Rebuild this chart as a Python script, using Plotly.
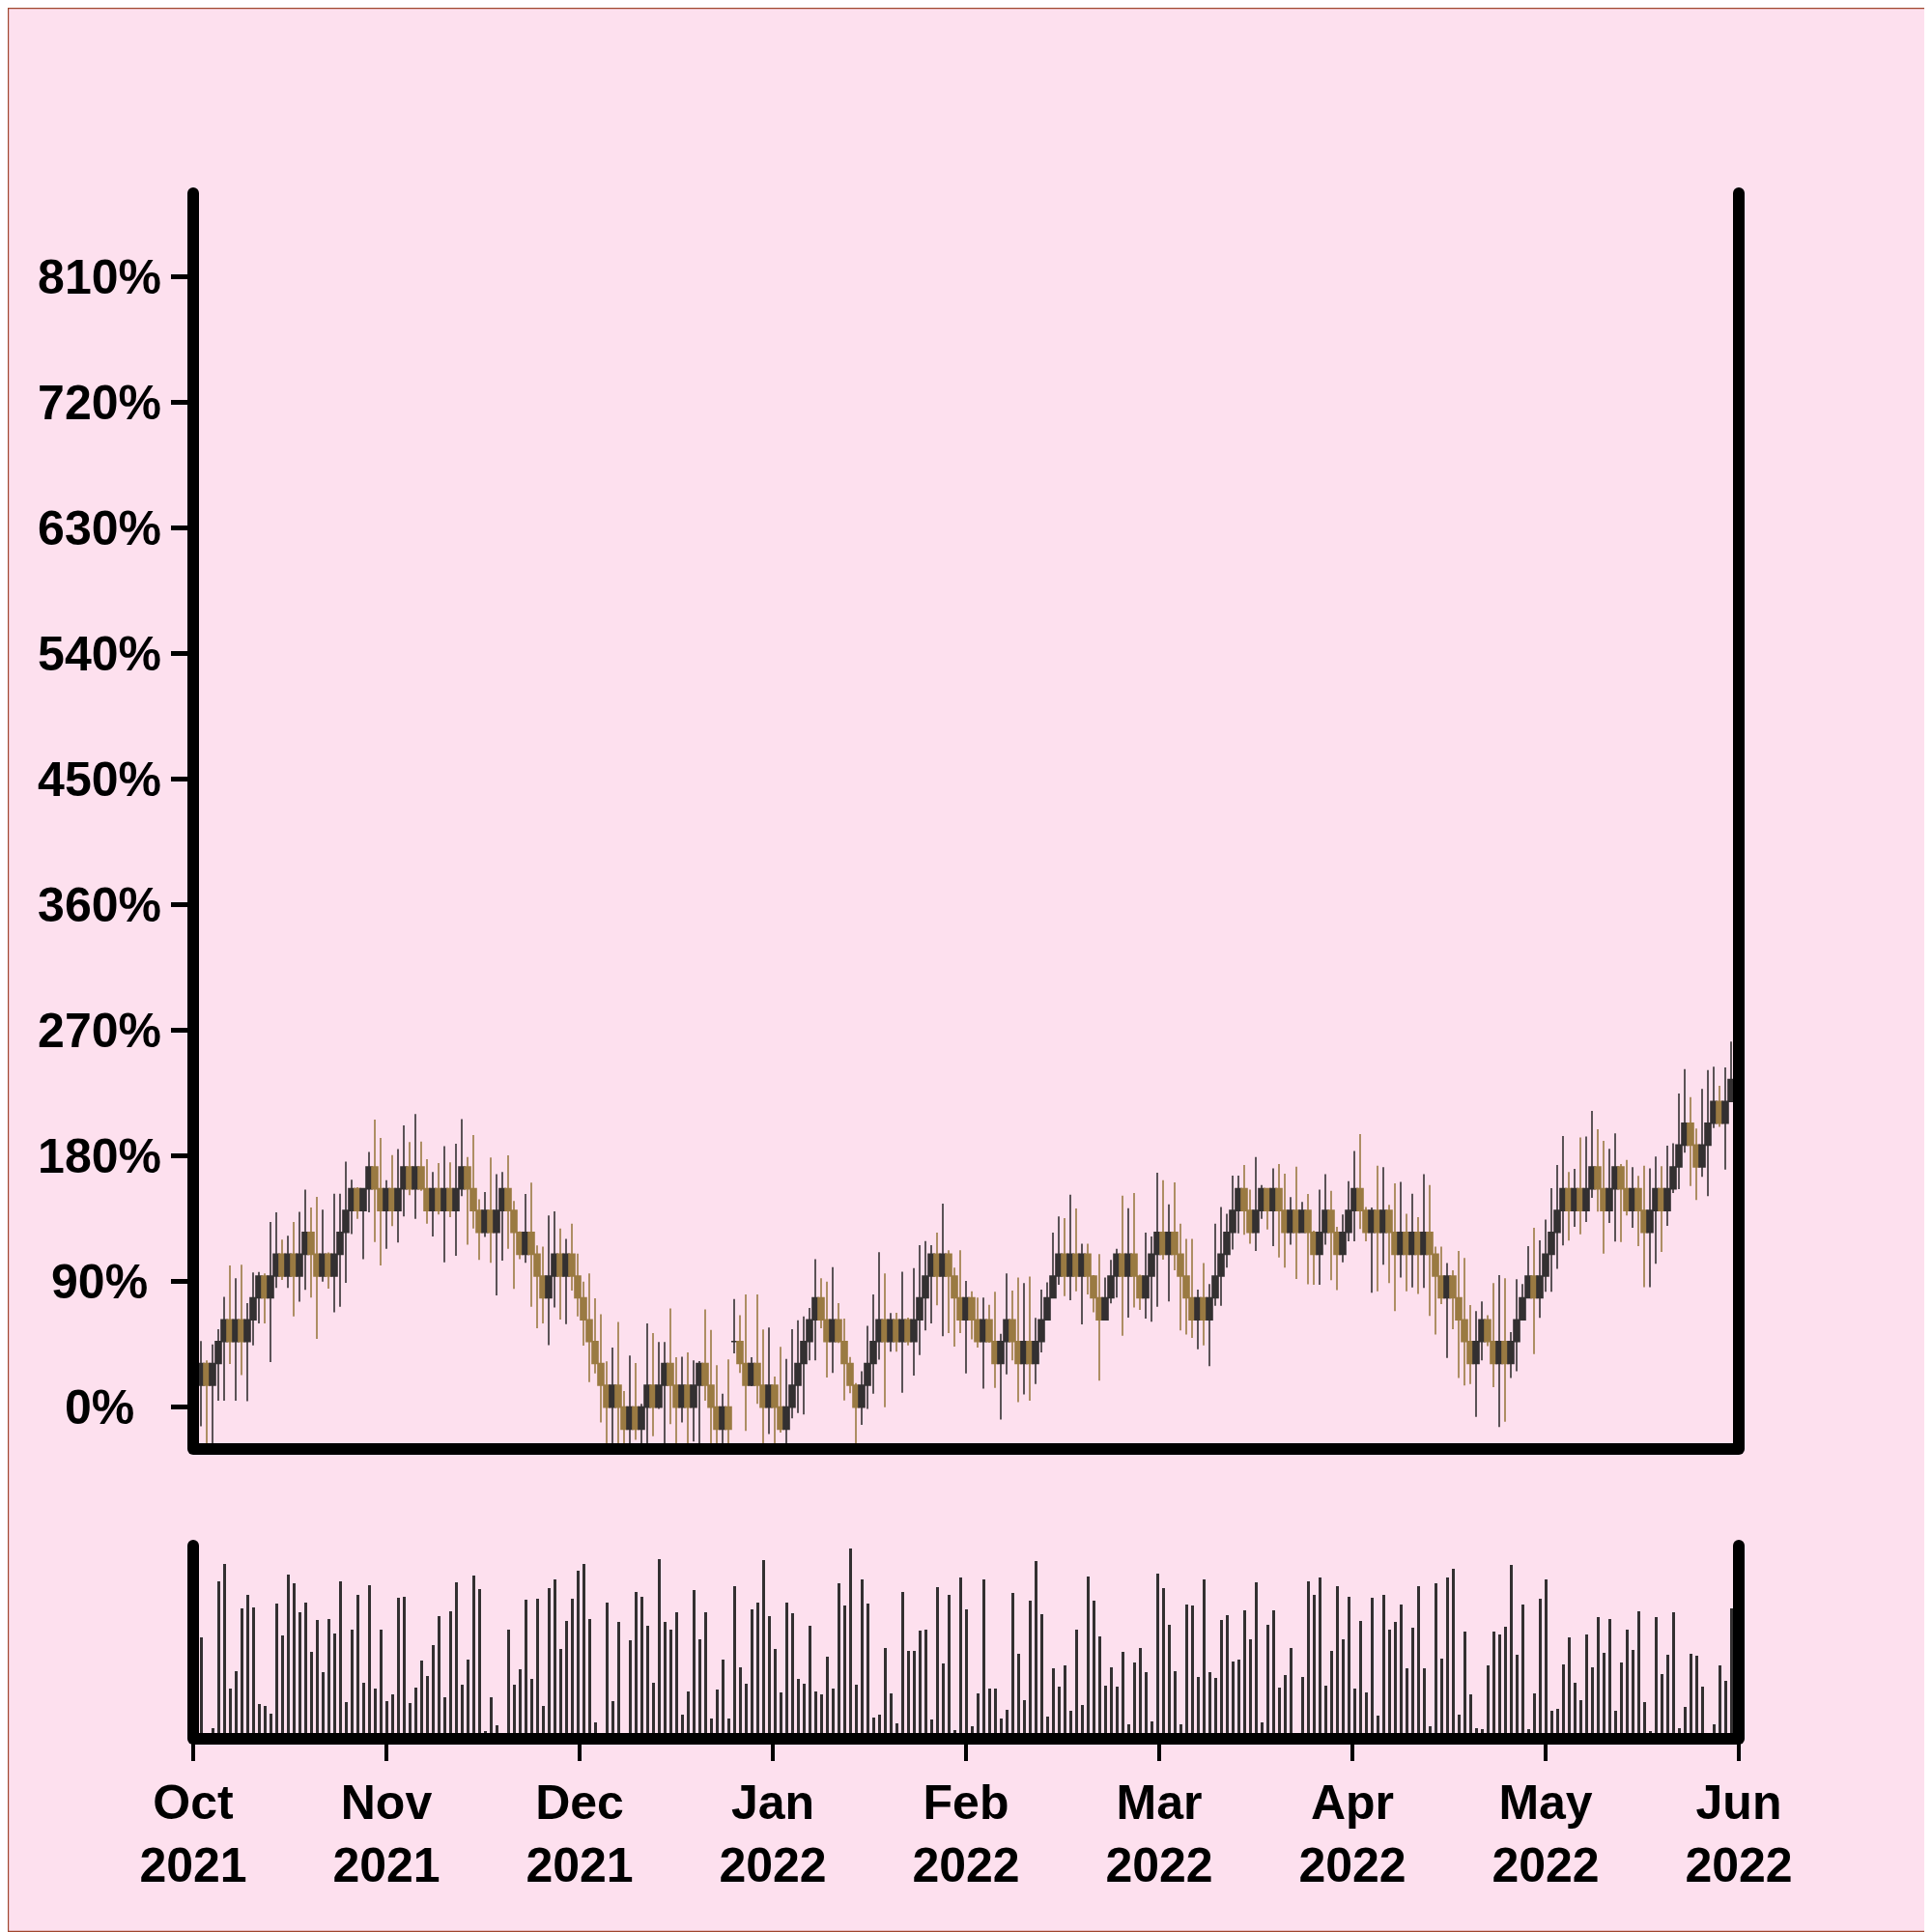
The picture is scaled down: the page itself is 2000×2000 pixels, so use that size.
import plotly.graph_objects as go

# ---------------- data ----------------
month_labels = ["Oct<br>2021", "Nov<br>2021", "Dec<br>2021", "Jan<br>2022", "Feb<br>2022",
                "Mar<br>2022", "Apr<br>2022", "May<br>2022", "Jun<br>2022"]

y_tick_values = [0, 90, 180, 270, 360, 450, 540, 630, 720, 810]
y_tick_labels = ["0%\u00a0\u00a0", "90%\u00a0", "180%", "270%", "360%", "450%", "540%", "630%", "720%", "810%"]

opens = [
    15.7, 31.3, 15.7, 31.3, 47.0, 62.6, 47.0, 62.6, 47.0, 62.6,
    78.3, 93.9, 78.3, 93.9, 109.6, 93.9, 109.6, 93.9, 109.6, 125.2,
    109.6, 93.9, 109.6, 93.9, 109.6, 125.2, 140.9, 156.5, 140.9, 156.5,
    172.2, 156.5, 140.9, 156.5, 140.9, 156.5, 172.2, 156.5, 172.2, 156.5,
    140.9, 156.5, 140.9, 156.5, 140.9, 156.5, 172.2, 156.5, 140.9, 125.2,
    140.9, 125.2, 140.9, 156.5, 140.9, 125.2, 109.6, 125.2, 109.6, 93.9,
    78.3, 93.9, 109.6, 93.9, 109.6, 93.9, 78.3, 62.6, 47.0, 31.3,
    15.7, 0.0, 15.7, 0.0, -15.7, 0.0, -15.7, 0.0, 15.7, 0.0,
    15.7, 31.3, 15.7, 0.0, 15.7, 0.0, 15.7, 31.3, 15.7, 0.0,
    -15.7, 0.0, 47.0, 47.0, 31.3, 15.7, 31.3, 15.7, 0.0, 15.7,
    0.0, -15.7, 0.0, 15.7, 31.3, 47.0, 62.6, 78.3, 62.6, 47.0,
    62.6, 47.0, 31.3, 15.7, 0.0, 15.7, 31.3, 47.0, 62.6, 47.0,
    62.6, 47.0, 62.6, 47.0, 62.6, 78.3, 93.9, 109.6, 93.9, 109.6,
    93.9, 78.3, 62.6, 78.3, 62.6, 47.0, 62.6, 47.0, 31.3, 47.0,
    62.6, 47.0, 31.3, 47.0, 31.3, 47.0, 62.6, 78.3, 93.9, 109.6,
    93.9, 109.6, 93.9, 109.6, 93.9, 78.3, 62.6, 78.3, 93.9, 109.6,
    93.9, 109.6, 93.9, 78.3, 93.9, 109.6, 125.2, 109.6, 125.2, 109.6,
    93.9, 78.3, 62.6, 78.3, 62.6, 78.3, 93.9, 109.6, 125.2, 140.9,
    156.5, 140.9, 125.2, 140.9, 156.5, 140.9, 156.5, 140.9, 125.2, 140.9,
    125.2, 140.9, 125.2, 109.6, 125.2, 140.9, 125.2, 109.6, 125.2, 140.9,
    156.5, 140.9, 125.2, 140.9, 125.2, 140.9, 125.2, 109.6, 125.2, 109.6,
    125.2, 109.6, 125.2, 109.6, 93.9, 78.3, 93.9, 78.3, 62.6, 47.0,
    31.3, 47.0, 62.6, 47.0, 31.3, 47.0, 31.3, 47.0, 62.6, 78.3,
    93.9, 78.3, 93.9, 109.6, 125.2, 140.9, 156.5, 140.9, 156.5, 140.9,
    156.5, 172.2, 156.5, 140.9, 156.5, 172.2, 156.5, 140.9, 156.5, 140.9,
    125.2, 140.9, 156.5, 140.9, 156.5, 172.2, 187.8, 203.5, 187.8, 172.2,
    187.8, 203.5, 219.1, 203.5, 219.1,
]

closes = [
    31.3, 15.7, 31.3, 47.0, 62.6, 47.0, 62.6, 47.0, 62.6, 78.3,
    93.9, 78.3, 93.9, 109.6, 93.9, 109.6, 93.9, 109.6, 125.2, 109.6,
    93.9, 109.6, 93.9, 109.6, 125.2, 140.9, 156.5, 140.9, 156.5, 172.2,
    156.5, 140.9, 156.5, 140.9, 156.5, 172.2, 156.5, 172.2, 156.5, 140.9,
    156.5, 140.9, 156.5, 140.9, 156.5, 172.2, 156.5, 140.9, 125.2, 140.9,
    125.2, 140.9, 156.5, 140.9, 125.2, 109.6, 125.2, 109.6, 93.9, 78.3,
    93.9, 109.6, 93.9, 109.6, 93.9, 78.3, 62.6, 47.0, 31.3, 15.7,
    0.0, 15.7, 0.0, -15.7, 0.0, -15.7, 0.0, 15.7, 0.0, 15.7,
    31.3, 15.7, 0.0, 15.7, 0.0, 15.7, 31.3, 15.7, 0.0, -15.7,
    0.0, -15.7, 47.0, 31.3, 15.7, 31.3, 15.7, 0.0, 15.7, 0.0,
    -15.7, 0.0, 15.7, 31.3, 47.0, 62.6, 78.3, 62.6, 47.0, 62.6,
    47.0, 31.3, 15.7, 0.0, 15.7, 31.3, 47.0, 62.6, 47.0, 62.6,
    47.0, 62.6, 47.0, 62.6, 78.3, 93.9, 109.6, 93.9, 109.6, 93.9,
    78.3, 62.6, 78.3, 62.6, 47.0, 62.6, 47.0, 31.3, 47.0, 62.6,
    47.0, 31.3, 47.0, 31.3, 47.0, 62.6, 78.3, 93.9, 109.6, 93.9,
    109.6, 93.9, 109.6, 93.9, 78.3, 62.6, 78.3, 93.9, 109.6, 93.9,
    109.6, 93.9, 78.3, 93.9, 109.6, 125.2, 109.6, 125.2, 109.6, 93.9,
    78.3, 62.6, 78.3, 62.6, 78.3, 93.9, 109.6, 125.2, 140.9, 156.5,
    140.9, 125.2, 140.9, 156.5, 140.9, 156.5, 140.9, 125.2, 140.9, 125.2,
    140.9, 125.2, 109.6, 125.2, 140.9, 125.2, 109.6, 125.2, 140.9, 156.5,
    140.9, 125.2, 140.9, 125.2, 140.9, 125.2, 109.6, 125.2, 109.6, 125.2,
    109.6, 125.2, 109.6, 93.9, 78.3, 93.9, 78.3, 62.6, 47.0, 31.3,
    47.0, 62.6, 47.0, 31.3, 47.0, 31.3, 47.0, 62.6, 78.3, 93.9,
    78.3, 93.9, 109.6, 125.2, 140.9, 156.5, 140.9, 156.5, 140.9, 156.5,
    172.2, 156.5, 140.9, 156.5, 172.2, 156.5, 140.9, 156.5, 140.9, 125.2,
    140.9, 156.5, 140.9, 156.5, 172.2, 187.8, 203.5, 187.8, 172.2, 187.8,
    203.5, 219.1, 203.5, 219.1, 234.8,
]

highs = [
    47.3, 33.5, 45.0, 55.8, 79.0, 101.5, 92.3, 102.0, 74.5, 96.5,
    96.9, 95.8, 132.7, 139.6, 120.0, 122.8, 132.7, 140.0, 155.8, 143.0,
    150.7, 141.5, 110.8, 153.0, 153.0, 176.0, 163.0, 157.6, 157.0, 182.8,
    206.0, 193.0, 162.7, 180.7, 185.0, 202.0, 190.0, 210.0, 190.4, 177.7,
    168.5, 175.0, 187.0, 175.4, 188.8, 206.5, 179.3, 195.0, 148.9, 154.2,
    178.9, 166.9, 168.5, 180.5, 147.7, 126.0, 152.8, 160.9, 115.9, 115.0,
    137.3, 140.3, 128.0, 120.5, 131.5, 110.0, 90.0, 95.8, 78.0, 66.5,
    32.8, 42.7, 61.0, 11.5, 37.0, 31.6, 2.3, 60.0, 53.0, 46.6,
    46.6, 70.8, 35.8, 36.2, 39.2, 33.5, 33.0, 70.0, 55.4, 30.0,
    9.7, 34.2, 77.5, 65.8, 80.8, 35.8, 80.8, 55.6, 57.0, 22.0,
    43.2, 34.6, 55.8, 62.3, 65.0, 71.0, 106.0, 92.3, 90.0, 100.4,
    74.5, 63.5, 36.0, 17.3, 25.8, 58.2, 80.8, 111.0, 95.8, 67.4,
    67.6, 97.0, 64.2, 99.7, 116.0, 119.0, 116.0, 125.0, 145.8, 112.4,
    100.0, 112.4, 90.5, 83.0, 78.5, 78.5, 73.4, 82.6, 52.6, 95.8,
    83.5, 92.8, 88.9, 93.5, 63.9, 84.2, 89.5, 125.0, 136.6, 135.5,
    152.3, 142.4, 117.2, 117.2, 94.6, 109.6, 92.8, 105.5, 113.5, 151.6,
    142.6, 153.5, 95.0, 125.0, 122.3, 168.0, 162.7, 145.4, 161.0, 131.5,
    120.5, 120.5, 84.2, 103.2, 88.2, 131.5, 143.5, 138.5, 166.0, 166.0,
    173.5, 155.8, 179.3, 159.2, 157.0, 171.2, 174.2, 167.3, 150.5, 172.4,
    147.0, 152.8, 126.5, 155.8, 166.9, 155.0, 129.2, 138.0, 162.0, 183.5,
    195.7, 143.5, 143.0, 173.0, 172.0, 145.0, 160.4, 161.5, 138.5, 153.0,
    136.2, 166.9, 159.2, 115.0, 115.0, 103.2, 98.1, 112.0, 106.9, 73.2,
    68.8, 75.7, 65.8, 88.9, 94.6, 92.3, 53.8, 91.6, 88.2, 115.4,
    128.5, 119.5, 134.5, 157.0, 173.5, 194.3, 168.5, 170.8, 193.2, 193.9,
    212.3, 199.2, 190.9, 185.1, 196.2, 174.2, 177.2, 171.9, 165.7, 173.1,
    171.2, 179.6, 172.6, 187.4, 189.2, 224.8, 242.3, 222.2, 199.6, 228.0,
    241.6, 243.9, 230.3, 243.5, 262.0,
]

lows = [
    -13.8, -40, -40, 4.6, 4.6, 31.0, 4.6, 23.0, 4.2, 44.3,
    60.0, 60.0, 32.3, 85.4, 91.2, 85.4, 65.0, 75.5, 84.0, 78.5,
    49.0, 90.0, 85.0, 68.0, 72.0, 89.0, 124.0, 135.0, 106.0, 139.6,
    118.4, 101.5, 113.5, 129.7, 118.0, 136.6, 151.9, 135.0, 155.0, 131.5,
    122.3, 138.0, 103.8, 136.2, 108.5, 151.2, 116.5, 128.0, 105.5, 121.9,
    103.4, 80.0, 105.0, 113.5, 84.7, 106.0, 103.4, 72.0, 56.5, 60.0,
    44.5, 71.5, 62.8, 59.5, 83.5, 65.0, 44.0, 18.0, 24.2, -11.0,
    -40, -40, -40, -40, -40, -23.5, -40, -40, -20.8, -1.2,
    -40, -12.2, -40, -11.0, -40, -24.7, -40, 4.6, -40, -40,
    -40, -40, 38.5, 24.5, -17.0, 15.0, 2.3, -40, -19.3, -40,
    -18.2, -40, -8.0, -4.2, -5.3, 33.5, 33.5, 56.5, 21.3, 24.5,
    46.0, 4.8, 10.0, -40, -12.7, -1.2, 9.7, 34.0, 0.0, 39.7,
    39.7, 10.4, 44.3, 22.6, 37.4, 55.0, 60.0, 73.0, 50.8, 53.0,
    43.4, 53.0, 24.2, 48.5, 42.7, 13.2, 46.2, 13.8, -8.8, 23.5,
    33.5, 3.5, 9.2, 4.6, 16.6, 39.2, 62.3, 78.0, 87.7, 79.6,
    76.6, 83.0, 59.3, 80.8, 68.0, 19.0, 62.3, 74.3, 78.5, 51.2,
    64.2, 71.5, 69.7, 63.5, 61.2, 72.0, 105.7, 75.7, 98.0, 55.0,
    52.0, 49.6, 41.5, 44.3, 29.3, 72.7, 72.7, 100.0, 113.0, 124.6,
    123.5, 117.2, 112.0, 135.0, 127.4, 115.4, 107.3, 100.0, 116.5, 91.8,
    125.0, 88.0, 87.7, 87.7, 116.5, 91.0, 83.8, 103.8, 118.8, 118.8,
    127.6, 118.8, 82.0, 83.0, 102.0, 88.9, 68.8, 92.8, 83.0, 85.8,
    81.2, 85.4, 65.3, 52.0, 73.8, 35.3, 55.8, 20.8, 15.5, 16.6,
    -6.9, 33.5, 43.8, 14.3, -14.3, -10.4, 20.8, 25.8, 62.6, 78.0,
    38.1, 63.9, 82.6, 82.6, 99.2, 115.9, 119.3, 129.2, 123.9, 132.7,
    150.0, 140.1, 110.1, 132.0, 118.6, 118.4, 137.3, 128.5, 115.4, 85.9,
    85.9, 102.7, 111.2, 129.9, 153.5, 156.2, 182.3, 158.5, 148.4, 165.0,
    151.2, 200.0, 200.8, 170.3, 219.1,
]

volumes = [
    105, 0, 11.3, 162.7, 180.7, 52, 70, 134.7, 148.7, 136,
    36, 34, 25.7, 140, 106.7, 170, 160.7, 130.7, 141, 90,
    122.7, 69, 124, 109.3, 163.3, 38, 112.7, 149.3, 58, 158.7,
    52, 112.7, 38.7, 46, 146, 146.7, 37, 53.3, 81.3, 65,
    97.3, 126.7, 43, 132.3, 162, 55.7, 82.3, 168.7, 155.3, 7.7,
    43, 14, 0, 113, 56, 71.7, 144, 62, 145.3, 33.7,
    155.7, 164.7, 92.7, 122, 144.7, 174.3, 180.7, 124, 17.3, 0,
    140.7, 39.3, 120.7, 0, 102, 151.7, 146.7, 116.7, 58.3, 186,
    121.3, 113, 130.7, 24.7, 48.7, 154.3, 102.7, 131.3, 21.3, 51.3,
    82.3, 21, 157.7, 74, 56.7, 134, 141.3, 184.7, 126.7, 93.3,
    47.7, 140.7, 129.7, 61.7, 56.7, 116.7, 48.7, 46.3, 84.7, 51.7,
    160.7, 137.7, 196.7, 56.3, 164.7, 140.3, 22, 24.7, 93.7, 46.7,
    16.3, 152.3, 90.7, 90.7, 111.7, 113.3, 20.3, 156.7, 77.7, 148.7,
    8.7, 167.3, 133.7, 13.3, 46.7, 165, 51.7, 52.3, 21.3, 29.7,
    150.7, 88.3, 40, 142.7, 184, 129.3, 23.3, 72.7, 54, 75.7,
    28.7, 112.7, 35, 167.7, 143, 106.3, 54.7, 73.7, 53.7, 90,
    15.3, 78.7, 94, 69, 17.7, 171.3, 155.7, 118, 70, 15.3,
    139, 138, 63.7, 165, 69, 63, 123.3, 127.7, 80, 81.7,
    133.3, 103, 161.7, 17.3, 118.3, 132.7, 52.7, 66.3, 94.3, 0,
    64, 163.3, 149, 167.3, 55, 91, 157.7, 103, 146.7, 52,
    121.7, 48, 146, 24, 149.3, 113, 121, 139, 73, 114.7,
    157.7, 72.7, 13.3, 161, 83.3, 167.3, 176.3, 24.7, 110.7, 45.7,
    11.3, 10, 75.7, 111.3, 108.3, 115.7, 179.7, 87.3, 139.3, 9.7,
    47.3, 144.7, 165, 29.3, 30.7, 77.3, 104.7, 57.7, 39.7, 107.7,
    74.3, 125.7, 88.7, 124.3, 29, 79, 113.3, 92, 131.7, 38.3,
    8, 125.7, 66.7, 87.3, 130.7, 10.7, 32.7, 88.3, 85.7, 54.3,
    0, 15, 76, 59.7, 134.7,
]

# ---------------- styling ----------------
BG = "#FDE0EE"
DARK = "#333031"
GOLD = "#9A7A42"
SPINE = "#000000"
FONT = "Liberation Sans"

n = len(closes)
x_idx = list(range(n))
# bars one unit apart, with 1 1/3 unit of padding at both ends of the axis
x_lo = -4.0 / 3.0
x_hi = (n - 1) + 4.0 / 3.0
step = (x_hi - x_lo) / (len(month_labels) - 1)
tick_pos = [x_lo + k * step for k in range(len(month_labels))]

MAIN_DOM = [0.1875, 1.0]
VOL_DOM = [0.0, 0.125]

# the page body adds an 8 px offset, so the figure is 8 px smaller and margins shifted
W = H = 1992
ML, MR, MT, MB = 192, 200, 192, 200
PW = W - ML - MR
PH = H - MT - MB

fig = go.Figure()

fig.add_trace(go.Candlestick(
    x=x_idx, open=opens, high=highs, low=lows, close=closes,
    increasing=dict(line=dict(color=DARK, width=1.6), fillcolor=DARK),
    decreasing=dict(line=dict(color=GOLD, width=1.6), fillcolor=GOLD),
    whiskerwidth=0, xaxis="x", yaxis="y", showlegend=False, hoverinfo="skip",
))

fig.add_trace(go.Bar(
    x=x_idx, y=volumes, marker=dict(color=DARK, line=dict(width=0)),
    width=0.5, xaxis="x2", yaxis="y2", showlegend=False, hoverinfo="skip",
))

tickfont = dict(family=FONT, size=50, color="black", weight="bold")

fig.update_layout(
    width=W, height=H,
    margin=dict(l=ML, r=MR, t=MT, b=MB),
    paper_bgcolor=BG, plot_bgcolor=BG,
    boxgap=0, boxgroupgap=0,
    bargap=0,
    showlegend=False,
    xaxis=dict(domain=[0, 1], anchor="y", range=[x_lo, x_hi], showticklabels=False,
               ticks="", showgrid=False, zeroline=False, showline=False,
               rangeslider=dict(visible=False)),
    xaxis2=dict(domain=[0, 1], anchor="y2", range=[x_lo, x_hi],
                tickmode="array", tickvals=tick_pos, ticktext=month_labels,
                ticks="outside", ticklen=22, tickwidth=4, tickcolor=SPINE,
                tickfont=tickfont, showgrid=False, zeroline=False, showline=False),
    yaxis=dict(domain=MAIN_DOM, anchor="x", range=[-30, 870],
               tickmode="array", tickvals=y_tick_values, ticktext=y_tick_labels,
               ticks="outside", ticklen=22, tickwidth=5, tickcolor=SPINE,
               tickfont=tickfont, showgrid=False, zeroline=False, showline=False),
    yaxis2=dict(domain=VOL_DOM, anchor="x2", range=[0, 200], showticklabels=False,
                ticks="", showgrid=False, zeroline=False, showline=False),
)

shapes = []
LW = 12
for (b, t) in (MAIN_DOM, VOL_DOM):
    for (x0, y0, x1, y1) in ((0, b, 0, t), (1, b, 1, t), (0, b, 1, b)):
        shapes.append(dict(type="line", xref="paper", yref="paper", x0=x0, y0=y0, x1=x1, y1=y1,
                           line=dict(color=SPINE, width=LW), layer="above"))
    for (cx, cy) in ((0, b), (1, b), (0, t), (1, t)):
        shapes.append(dict(type="circle", xref="paper", yref="paper",
                           xsizemode="pixel", ysizemode="pixel", xanchor=cx, yanchor=cy,
                           x0=-LW / 2, x1=LW / 2, y0=-LW / 2, y1=LW / 2,
                           fillcolor=SPINE, line=dict(width=0), layer="above"))
# thin outer border of the picture
e = 0.6
shapes.append(dict(type="rect", xref="paper", yref="paper",
                   x0=(-ML + e) / PW, x1=(PW + MR - e) / PW,
                   y0=(-MB + e) / PH, y1=(PH + MT - e) / PH,
                   line=dict(color="#A0462D", width=1.2), fillcolor="rgba(0,0,0,0)", layer="above"))
fig.update_layout(shapes=shapes)

fig.write_html("out.html", config={"displayModeBar": False})
